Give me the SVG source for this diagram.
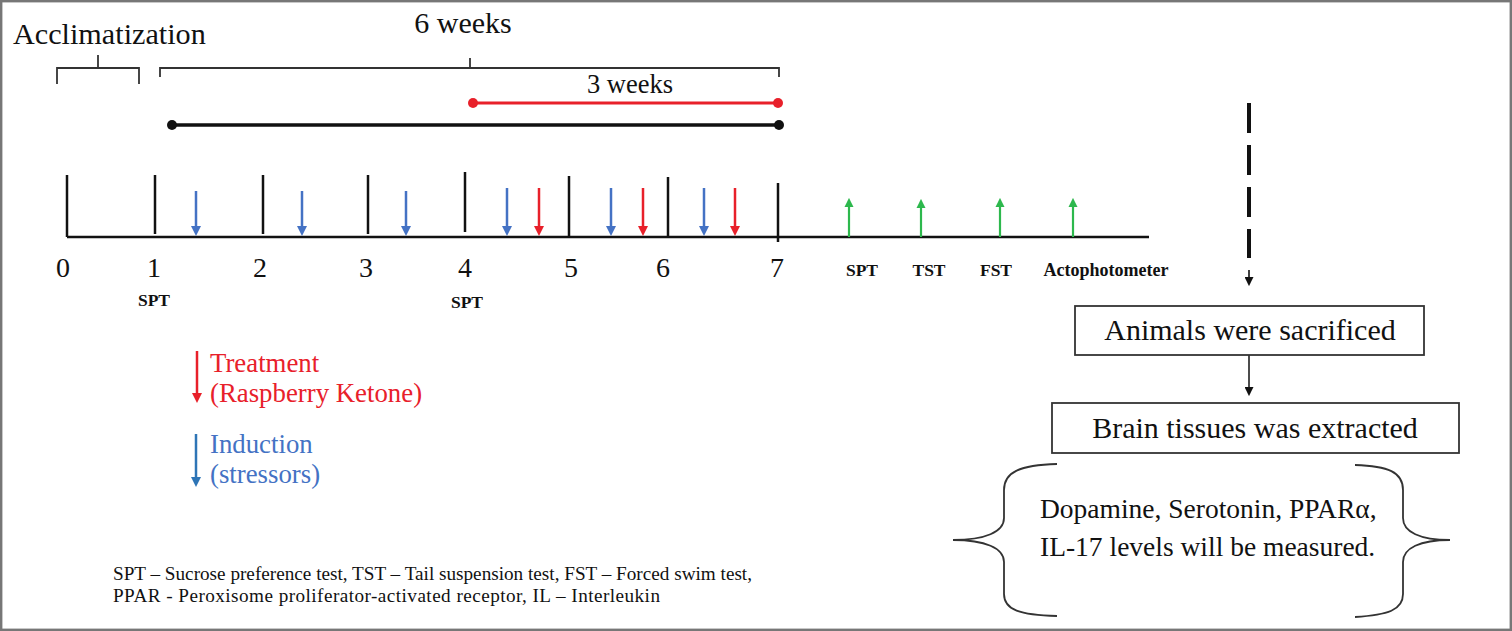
<svg xmlns="http://www.w3.org/2000/svg" width="1512" height="631" viewBox="0 0 1512 631">
<style>
text{font-family:"Liberation Serif","Times New Roman",serif;fill:#111}
.lbl{font-size:17.5px;font-weight:bold;text-anchor:middle}
.num{font-size:28px;text-anchor:middle}
.tick{stroke:#111;stroke-width:2.5}
.brk{fill:none;stroke:#333;stroke-width:1.8}
.blue{stroke:#4472C4;stroke-width:2.5}
.red{stroke:#E8202A;stroke-width:2.5}
.green{stroke:#2DB84D;stroke-width:2.2}
.box{fill:#fff;stroke:#333;stroke-width:1.8}
.big{font-size:30px;text-anchor:middle}
</style>
<defs>
<marker id="hb" viewBox="0 0 10 10" refX="1" refY="5" markerWidth="10" markerHeight="10" markerUnits="userSpaceOnUse" orient="auto"><path d="M0,0 L10,5 L0,10 z" fill="#4472C4"/></marker>
<marker id="hr" viewBox="0 0 10 10" refX="1" refY="5" markerWidth="10" markerHeight="10" markerUnits="userSpaceOnUse" orient="auto"><path d="M0,0 L10,5 L0,10 z" fill="#E8202A"/></marker>
<marker id="hg" viewBox="0 0 10 10" refX="1" refY="5" markerWidth="9" markerHeight="10" markerUnits="userSpaceOnUse" orient="auto"><path d="M0,0 L10,5 L0,10 z" fill="#2DB84D"/></marker>
<marker id="hdb" viewBox="0 0 10 10" refX="1" refY="5" markerWidth="10" markerHeight="10" markerUnits="userSpaceOnUse" orient="auto"><path d="M0,0 L10,5 L0,10 z" fill="#2E75B6"/></marker>
<marker id="hk" viewBox="0 0 10 10" refX="1" refY="5" markerWidth="9" markerHeight="9" markerUnits="userSpaceOnUse" orient="auto"><path d="M0,0 L10,5 L0,10 z" fill="#111"/></marker>
</defs>
<rect x="1.2" y="1.2" width="1509.6" height="628.6" fill="#fff" stroke="#777" stroke-width="2.4"/>

<g id="acclimatization">
<text x="13" y="44" style="font-size:30.2px">Acclimatization</text>
<path class="brk" d="M57,84 V68 H139 V84 M98,68 V55"/>
</g>
<g id="six-weeks">
<text x="463" y="33" style="font-size:30px;text-anchor:middle">6 weeks</text>
<path class="brk" d="M160,77 V68 H779 V77 M470,68 V58"/>
<line x1="172" y1="125" x2="779" y2="125" stroke="#111" stroke-width="3.5"/>
<circle cx="172" cy="125" r="5" fill="#111"/>
<circle cx="779" cy="125" r="5" fill="#111"/>
</g>
<g id="three-weeks">
<text x="630" y="93" style="font-size:26.5px;text-anchor:middle">3 weeks</text>
<line x1="473" y1="103" x2="778" y2="103" stroke="#E8202A" stroke-width="3"/>
<circle cx="473" cy="103" r="5" fill="#E8202A"/>
<circle cx="778" cy="103" r="5" fill="#E8202A"/>
</g>

<g id="timeline">
<line x1="67" y1="237" x2="1149" y2="237" class="tick"/>
<line class="tick" x1="67" y1="175" x2="67" y2="237"/>
<line class="tick" x1="155" y1="175" x2="155" y2="234"/>
<line class="tick" x1="263" y1="175" x2="263" y2="234"/>
<line class="tick" x1="368" y1="175" x2="368" y2="234"/>
<line class="tick" x1="465" y1="172" x2="465" y2="232"/>
<line class="tick" x1="569" y1="176" x2="569" y2="237"/>
<line class="tick" x1="668" y1="177" x2="668" y2="236"/>
<line class="tick" x1="778" y1="183" x2="778" y2="242"/>
<text class="num" x="63" y="277">0</text>
<text class="num" x="154" y="277">1</text>
<text class="num" x="260" y="277">2</text>
<text class="num" x="366" y="277">3</text>
<text class="num" x="465" y="277">4</text>
<text class="num" x="571" y="277">5</text>
<text class="num" x="663" y="277">6</text>
<text class="num" x="777" y="277">7</text>
<text class="lbl" x="154" y="306">SPT</text>
<text class="lbl" x="467" y="308">SPT</text>
<text class="lbl" x="862" y="276">SPT</text>
<text class="lbl" x="929" y="276">TST</text>
<text class="lbl" x="996" y="276">FST</text>
<text class="lbl" x="1106" y="276" style="font-size:18px">Actophotometer</text>
</g>

<g id="connectors">
<line class="blue" x1="196" y1="191" x2="196" y2="227" marker-end="url(#hb)"/>
<line class="blue" x1="302" y1="191" x2="302" y2="227" marker-end="url(#hb)"/>
<line class="blue" x1="406" y1="191" x2="406" y2="227" marker-end="url(#hb)"/>
<line class="blue" x1="507" y1="188" x2="507" y2="227" marker-end="url(#hb)"/>
<line class="blue" x1="611" y1="188" x2="611" y2="227" marker-end="url(#hb)"/>
<line class="blue" x1="704" y1="188" x2="704" y2="227" marker-end="url(#hb)"/>
<line class="red" x1="539" y1="188" x2="539" y2="227" marker-end="url(#hr)"/>
<line class="red" x1="643" y1="188" x2="643" y2="227" marker-end="url(#hr)"/>
<line class="red" x1="735" y1="188" x2="735" y2="227" marker-end="url(#hr)"/>
<line class="green" x1="849" y1="237" x2="849" y2="206" marker-end="url(#hg)"/>
<line class="green" x1="921" y1="237" x2="921" y2="207" marker-end="url(#hg)"/>
<line class="green" x1="1000" y1="237" x2="1000" y2="206" marker-end="url(#hg)"/>
<line class="green" x1="1073" y1="237" x2="1073" y2="206" marker-end="url(#hg)"/>
<line x1="1249" y1="103" x2="1249" y2="258" stroke="#111" stroke-width="4" stroke-dasharray="30 12"/>
<line x1="1249" y1="270" x2="1249" y2="278" stroke="#111" stroke-width="1.6" marker-end="url(#hk)"/>
<line x1="1249" y1="355" x2="1249" y2="388" stroke="#111" stroke-width="1.5" marker-end="url(#hk)"/>
</g>

<g id="legend-treatment">
<line class="red" x1="197" y1="351" x2="197" y2="394" marker-end="url(#hr)"/>
<text x="210" y="372" style="font-size:26.8px;fill:#E8202A">Treatment</text>
<text x="210" y="402" style="font-size:26.8px;fill:#E8202A">(Raspberry Ketone)</text>
</g>
<g id="legend-induction">
<line x1="196" y1="434" x2="196" y2="478" stroke="#2E75B6" stroke-width="2.5" marker-end="url(#hdb)"/>
<text x="210" y="453" style="font-size:26.8px;fill:#4472C4">Induction</text>
<text x="210" y="483" style="font-size:26.8px;fill:#4472C4">(stressors)</text>
</g>

<g id="footnote">
<text x="113" y="580" style="font-size:19.2px" textLength="639" lengthAdjust="spacing">SPT – Sucrose preference test, TST – Tail suspension test, FST – Forced swim test,</text>
<text x="113" y="602" style="font-size:19.2px" textLength="547" lengthAdjust="spacing">PPAR - Peroxisome proliferator-activated receptor, IL – Interleukin</text>
</g>

<g id="animals-sacrificed">
<rect class="box" x="1075" y="306" width="349" height="49"/>
<text class="big" x="1250" y="340">Animals were sacrificed</text>
</g>
<g id="brain-extracted">
<rect class="box" x="1052" y="403" width="407" height="50"/>
<text class="big" x="1255" y="438">Brain tissues was extracted</text>
</g>
<g id="measured">
<path class="brk" d="M1057,464 C1020,465 1004,472 1004,490 V518 C1004,532 985,540 953,540 C985,540 1004,548 1004,562 V594 C1004,610 1020,615 1057,616"/>
<path class="brk" d="M1355,465 C1388,466 1403,472 1403,490 V518 C1403,532 1420,540 1450,540 C1420,540 1403,548 1403,562 V594 C1403,610 1388,615 1355,617"/>
<text x="1040" y="518" style="font-size:27.5px">Dopamine, Serotonin, PPARα,</text>
<text x="1040" y="556" style="font-size:27.5px">IL-17 levels will be measured.</text>
</g>
</svg>
